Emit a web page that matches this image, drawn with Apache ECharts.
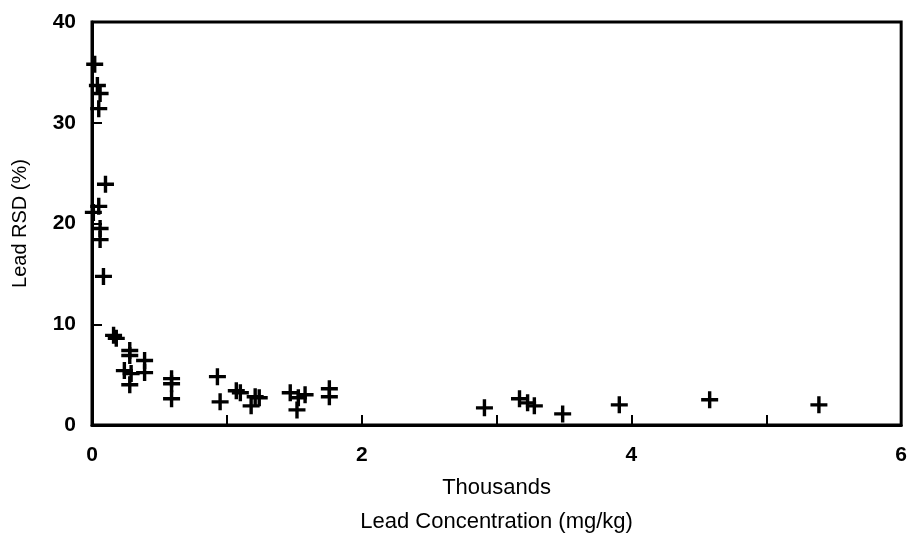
<!DOCTYPE html>
<html>
<head>
<meta charset="utf-8">
<script src="https://cdn.jsdelivr.net/npm/echarts@6/dist/echarts.min.js"></script>
<style>html,body{margin:0;padding:0;background:#fff}#c{width:910px;height:544px}</style>
</head>
<body>
<div id="c"></div>
<script>
// Lead concentration (thousands of mg/kg)
const leadConc = [0.02,0.04,0.06,0.05,0.10,0.05,0.01,0.06,0.06,0.085,
  0.16,0.18,0.28,0.28,0.39,0.24,0.29,0.28,0.39,0.59,0.59,0.59,
  0.93,0.95,1.07,1.10,1.21,1.24,1.18,
  1.47,1.53,1.52,1.58,1.76,1.76,
  2.91,3.17,3.23,3.28,3.49,3.91,4.58,5.39];
// Lead RSD (%)
const leadRSD = [35.8,33.7,32.9,31.4,23.9,21.7,21.1,19.5,18.4,14.75,
  8.9,8.6,7.4,6.9,6.4,5.4,5.1,4.0,5.2,4.6,4.1,2.6,
  4.8,2.3,3.4,3.2,2.8,2.7,1.9,
  3.2,2.7,1.5,3.0,3.6,2.8,
  1.7,2.6,2.2,1.9,1.1,2.0,2.5,2.0];
const xTicks = [0,1,2,3,4,5,6];
const xLabelShown = [0,2,4,6];
const yTicks = [0,10,20,30,40];

const pts = leadConc.map((x,i)=>[x,leadRSD[i]]);
const font = 'Liberation Sans, Arial, sans-serif';
const chart = echarts.init(document.getElementById('c'));
chart.setOption({
  animation:false,
  backgroundColor:'#fff',
  grid:{left:92,right:4,top:22,bottom:107,show:true,borderColor:'#000',borderWidth:3,containLabel:false},
  xAxis:{type:'value',min:xTicks[0],max:xTicks[xTicks.length-1],interval:1,
    axisLine:{show:true,lineStyle:{color:'#000',width:3}},
    axisTick:{show:true,inside:true,length:10,lineStyle:{color:'#000',width:2}},
    splitLine:{show:false},
    axisLabel:{margin:20,color:'#000',fontFamily:font,fontSize:21,fontWeight:'bold',
      formatter:v=>xLabelShown.includes(v)?String(v):''},
    name:'Thousands\nLead Concentration (mg/kg)',nameLocation:'middle',nameGap:46,
    nameTextStyle:{color:'#000',fontFamily:font,fontSize:22,lineHeight:34}
  },
  yAxis:{type:'value',min:yTicks[0],max:yTicks[yTicks.length-1],interval:10,
    axisLine:{show:true,lineStyle:{color:'#000',width:3}},
    axisTick:{show:true,inside:true,length:10,lineStyle:{color:'#000',width:2}},
    splitLine:{show:false},
    axisLabel:{margin:16,color:'#000',fontFamily:font,fontSize:21,fontWeight:'bold'},
    name:'Lead RSD (%)',nameLocation:'middle',nameGap:62,nameRotate:90,
    nameTextStyle:{color:'#000',fontFamily:font,fontSize:20}
  },
  series:[{type:'scatter',data:pts,
    symbol:'path://M4.8,0 H7.2 V4.8 H12 V7.2 H7.2 V12 H4.8 V7.2 H0 V4.8 H4.8 Z',symbolSize:17,
    itemStyle:{color:'#000',opacity:1}}]
});
</script>
</body>
</html>
